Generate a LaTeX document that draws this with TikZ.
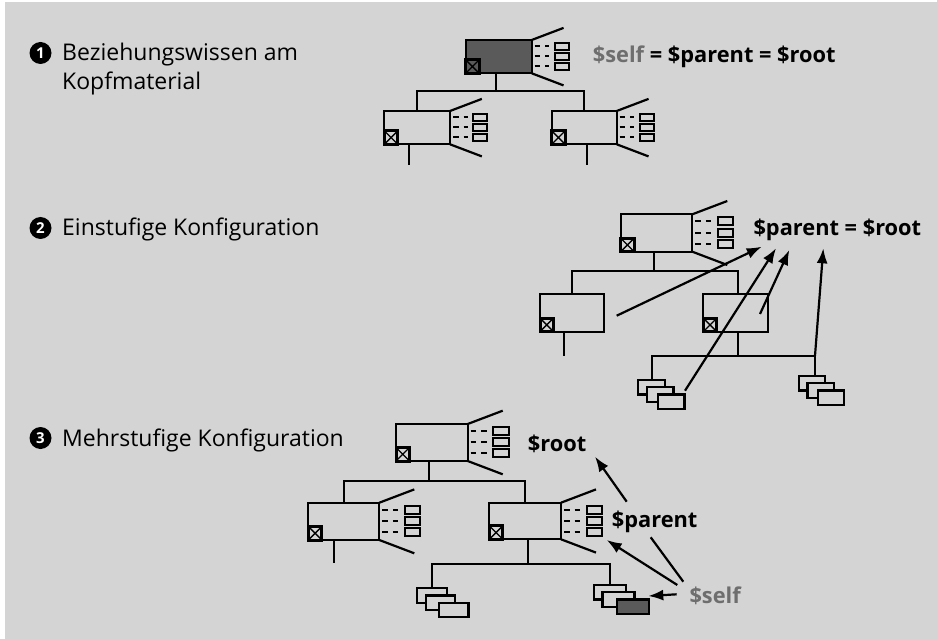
\documentclass[tikz,border=0pt]{standalone}
\usepackage{fontspec}
\setmainfont{Open Sans}
\usetikzlibrary{calc,arrows.meta}
\definecolor{bg}{HTML}{D4D4D4}
\definecolor{dark}{HTML}{5A5A5A}
\definecolor{selfgray}{HTML}{6E6E6E}
\newcommand\bigfont{\fontsize{23}{30}\selectfont}
\newcommand\boldfont{\fontsize{21.8}{30}\selectfont\bfseries}
\tikzset{
 ln/.style={line width=2.2pt},
 box/.style={draw, line width=2.2pt, rectangle, inner sep=0pt, outer sep=0pt, anchor=north west},
 xbox/.style={draw, line width=3pt, rectangle, inner sep=0pt, outer sep=0pt, minimum size=13.5pt, anchor=south west,
   path picture={\draw[line width=1.4pt] (path picture bounding box.south west) -- (path picture bounding box.north east)
     (path picture bounding box.north west) -- (path picture bounding box.south east);}},
 srect/.style={draw, line width=2.2pt, fill=bg, rectangle, inner sep=0pt, outer sep=0pt, anchor=north west, minimum height=14.4pt},
 arr/.style={line width=2.2pt, -{Latex[length=15pt,width=11pt]}},
 lbl/.style={font=\boldfont, anchor=base west, inner sep=0pt},
 txt/.style={font=\bigfont, anchor=base west, inner sep=0pt},
 bullet/.style={circle, fill=black, text=white, font=\fontsize{15}{15}\selectfont\bfseries, minimum size=22pt, inner sep=0pt},
}
% module box: #1 opts, #2 name, #3 x, #4 y, #5 w, #6 h
\newcommand\modul[6][]{%
 \node[box, minimum width=#5pt, minimum height=#6pt, #1] (#2) at (#3,#4) {};
 \node[xbox] (#2-x) at (#2.south west) {};
}
% fan on the right: #1 name, #2 scale
\newcommand\fan[2]{%
 \draw[ln] (#1.north east) -- ++({35*#2},{-13.3*#2});
 \draw[ln] (#1.south east) -- ++({35*#2},{13.3*#2});
 \foreach \f in {0.19,0.49,0.79}{
   \coordinate (r) at ($(#1.north east)!\f!(#1.south east)$);
   \draw[line width=2pt, dash pattern=on 5.5pt off 5pt] ($(r)+(3,0)$) -- ++({16*#2},0);
   \draw[line width=2pt] ($(r)+({25.5*#2},{-4*#2})$) rectangle ++({15.5*#2},{8*#2});
 }
}
% stack of three: #1 fill of last, #2 name, #3 x, #4 y, #5 w, #6 dx of last
\newcommand\stack[6][bg]{%
 \node[srect, minimum width=#5pt] (#2-a) at (#3,#4) {};
 \node[srect, minimum width=#5pt] (#2-b) at ($(#2-a.north west)+(8.5,7.2)$) {};
 \node[srect, minimum width=#5pt, fill=#1] (#2-c) at ($(#2-a.north west)+(#6,14.4)$) {};
}
\begin{document}
\begin{tikzpicture}[x=1pt,y=-1pt]
\useasboundingbox (0,0) rectangle (937,639);
\fill[white] (0,0) rectangle (937,639);
\fill[bg] (5,2) rectangle (937,639);

% ---------- left texts
\node[bullet] (n1) at (40.5,53) {1};
\node[txt] (t1a) at (62,60.7) {Beziehungswissen am};
\node[txt] (t1b) at (62,90) {Kopfmaterial};
\node[bullet] (n2) at (40.5,228) {2};
\node[txt] (t2a) at (62,236) {Einstufige Konfiguration};
\node[bullet] (n3) at (40.5,438) {3};
\node[txt] (t3a) at (62,446) {Mehrstufige Konfiguration};

% ---------- section 1
\modul[fill=dark]{t1}{465.7}{40}{66}{33.3}
\fan{t1}{0.91}
\modul{c1a}{384.3}{111}{65.7}{33.3}
\fan{c1a}{0.91}
\modul{c1b}{551.7}{111}{65}{33.3}
\fan{c1b}{0.91}
\coordinate (j1) at (496,91);
\draw[ln] (j1 |- t1.south) -- (j1);
\draw[ln] (c1a.north) |- (j1) -| (c1b.north);
\draw[ln] ($(c1a.south)+(-8,0)$) -- ++(0,21);
\draw[ln] ($(c1b.south)+(3,0)$) -- ++(0,21);
\node[lbl] (L1) at (592.7,62.5) {\textcolor{selfgray}{\$self} = \$parent = \$root};

% ---------- section 2
\modul{t2}{620.7}{214.3}{71.6}{37.4}
\fan{t2}{1}
\modul{c2a}{540}{293.7}{64.3}{38}
\modul{c2b}{703.3}{293.7}{65}{38}
\coordinate (j2) at (654,270.7);
\draw[ln] (j2 |- t2.south) -- (j2);
\draw[ln] (c2a.north) |- (j2) -| ($(c2b.north)+(2.5,0)$);
\draw[ln] ($(c2a.south)+(-8.5,0)$) -- ++(0,24);
\coordinate (k2) at ($(c2b.south)+(2.5,24)$);
\draw[ln] ($(c2b.south)+(2.5,0)$) -- (k2);
\stack{s2a}{638.3}{380}{26.7}{19.4}
\stack{s2b}{799}{376}{26.3}{18.7}
\draw[ln] (s2a-a.north) |- (k2) -| ($(s2b-a.north)+(2.5,0)$);
\node[lbl] (L2) at (753.3,235.7) {\$parent = \$root};
\coordinate (a1s) at (616.7,315.7);
\coordinate (a1e) at (761.7,246.7);
\coordinate (a2s) at (685,390.7);
\coordinate (a2e) at (776,248.3);
\coordinate (a3s) at (760,314);
\coordinate (a3e) at (789.3,250);
\coordinate (a4s) at (815,355.7);
\coordinate (a4e) at (823.3,248.3);
\draw[arr] (a1s) -- (a1e);
\draw[arr] (a2s) -- (a2e);
\draw[arr] (a3s) -- (a3e);
\draw[arr] (a4s) -- (a4e);

% ---------- section 3
\modul{t3}{396}{424}{71.7}{37}
\fan{t3}{1}
\modul{c3a}{308.3}{502.7}{71}{37.3}
\fan{c3a}{1}
\modul{c3b}{489.3}{502.7}{71.7}{36.6}
\fan{c3b}{1}
\coordinate (j3) at (429.3,480.7);
\draw[ln] (j3 |- t3.south) -- (j3);
\draw[ln] (c3a.north) |- (j3) -| (c3b.north);
\draw[ln] ($(c3a.south)+(-10,0)$) -- ++(0,23.3);
\coordinate (k3) at ($(c3b.south)+(2.5,25)$);
\draw[ln] ($(c3b.south)+(2.5,0)$) -- (k3);
\stack{s3a}{417.3}{588.3}{29.5}{21.7}
\stack[dark]{s3b}{594}{585}{32}{23.3}
\draw[ln] (s3a-a.north) |- (k3) -| (s3b-a.north);
\node[lbl] (L3a) at (527.7,451.7) {\$root};
\node[lbl] (L3b) at (611.7,527.3) {\$parent};
\node[lbl, text=selfgray] (L3c) at (689.3,603.3) {\$self};
\coordinate (b1s) at (626.7,501.7);
\coordinate (b1e) at (595,456.7);
\coordinate (b2s) at (683.3,581.7);
\coordinate (b2e) at (650.7,537.3);
\coordinate (b3s) at (677.3,585);
\coordinate (b3e) at (606.7,540);
\coordinate (b4s) at (676.7,594.3);
\coordinate (b4e) at (648.3,596);
\draw[arr] (b1s) -- (b1e);
\draw[ln] (b2s) -- (b2e);
\draw[arr] (b3s) -- (b3e);
\draw[arr] (b4s) -- (b4e);
\end{tikzpicture}
\end{document}
